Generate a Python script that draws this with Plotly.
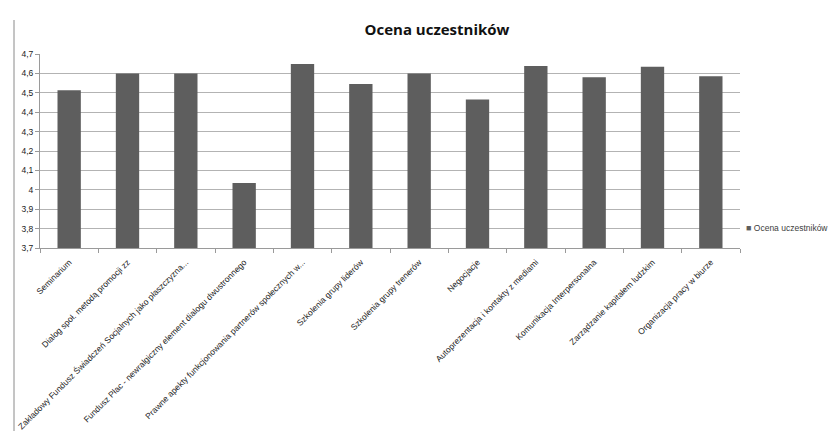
import plotly.graph_objects as go

categories = [
    "Seminarium",
    "Dialog społ. metodą promocji zz",
    "Zakładowy Fundusz Świadczeń Socjalnych jako płaszczyzna...",
    "Fundusz Płac - newralgiczny element dialogu dwustronnego",
    "Prawne apekty funkcjonowania partnerów społecznych w...",
    "Szkolenia grupy liderów",
    "Szkolenia grupy trenerów",
    "Negocjacje",
    "Autoprezentacja i kontakty z mediami",
    "Komunikacja Interpersonalna",
    "Zarządzanie kapitałem ludzkim",
    "Organizacja pracy w biurze",
]
values = [4.513, 4.6, 4.6, 4.035, 4.649, 4.545, 4.6, 4.466, 4.638, 4.58, 4.634, 4.585]
series_name = "Ocena uczestników"
ytick_vals = [3.7, 3.8, 3.9, 4.0, 4.1, 4.2, 4.3, 4.4, 4.5, 4.6, 4.7]
ytick_text = ["3,7", "3,8", "3,9", "4", "4,1", "4,2", "4,3", "4,4", "4,5", "4,6", "4,7"]

# page body has an 8px default margin; compensate
OFF = 8
W, H = 837 - OFF, 431 - OFF
L, R, T, B = 40 - OFF, 97, 54 - OFF, 183

pw = W - L - R
ph = H - T - B

def px_x(x):
    return (x - OFF - L) / pw

def px_y(y):
    return (H + OFF - B - y) / ph

fig = go.Figure()
fig.add_trace(go.Bar(
    x=categories, y=values, name=series_name,
    marker=dict(color="#5e5e5e", line=dict(width=0)),
    showlegend=False,
))

fig.add_shape(type="line", xref="paper", yref="paper",
              x0=px_x(14), x1=px_x(14), y0=px_y(20), y1=px_y(440),
              line=dict(color="#8a8a8a", width=1))

fig.add_annotation(xref="paper", yref="paper", x=px_x(744), y=px_y(228),
                   xanchor="left", yanchor="middle", showarrow=False,
                   text="<span style='color:#5e5e5e;font-size:9px'>■</span> " + series_name,
                   font=dict(size=8.5, color="#404040",
                             family="Liberation Sans, Arial, sans-serif"))

fig.update_layout(
    width=W, height=H,
    margin=dict(l=L, r=R, t=T, b=B, autoexpand=False),
    paper_bgcolor="white", plot_bgcolor="white",
    font=dict(family="Liberation Sans, Arial, sans-serif", size=8.5, color="#222"),
    title=dict(text="<b>Ocena uczestników</b>", x=(437 - OFF) / W, xanchor="center",
               y=1 - (30 - OFF) / H, yanchor="middle",
               font=dict(size=15, color="#111", family="Open Sans, Liberation Sans, sans-serif")),
    bargap=0.6,
    showlegend=False,
    xaxis=dict(type="category", tickangle=-45, showline=True, linecolor="#9a9a9a",
               ticks="outside", tickson="boundaries", ticklen=4, tickcolor="#9a9a9a",
               showgrid=False, ticklabelstandoff=5,
               tickfont=dict(size=8.5, color="#222")),
    yaxis=dict(range=[3.7, 4.7], tickvals=ytick_vals, ticktext=ytick_text,
               showgrid=True, gridcolor="#b3b3b3", gridwidth=1,
               showline=True, linecolor="#9a9a9a", ticks="outside", ticklen=4,
               tickcolor="#9a9a9a", zeroline=False,
               tickfont=dict(size=8.5, color="#222")),
)

fig.write_html("out.html")
